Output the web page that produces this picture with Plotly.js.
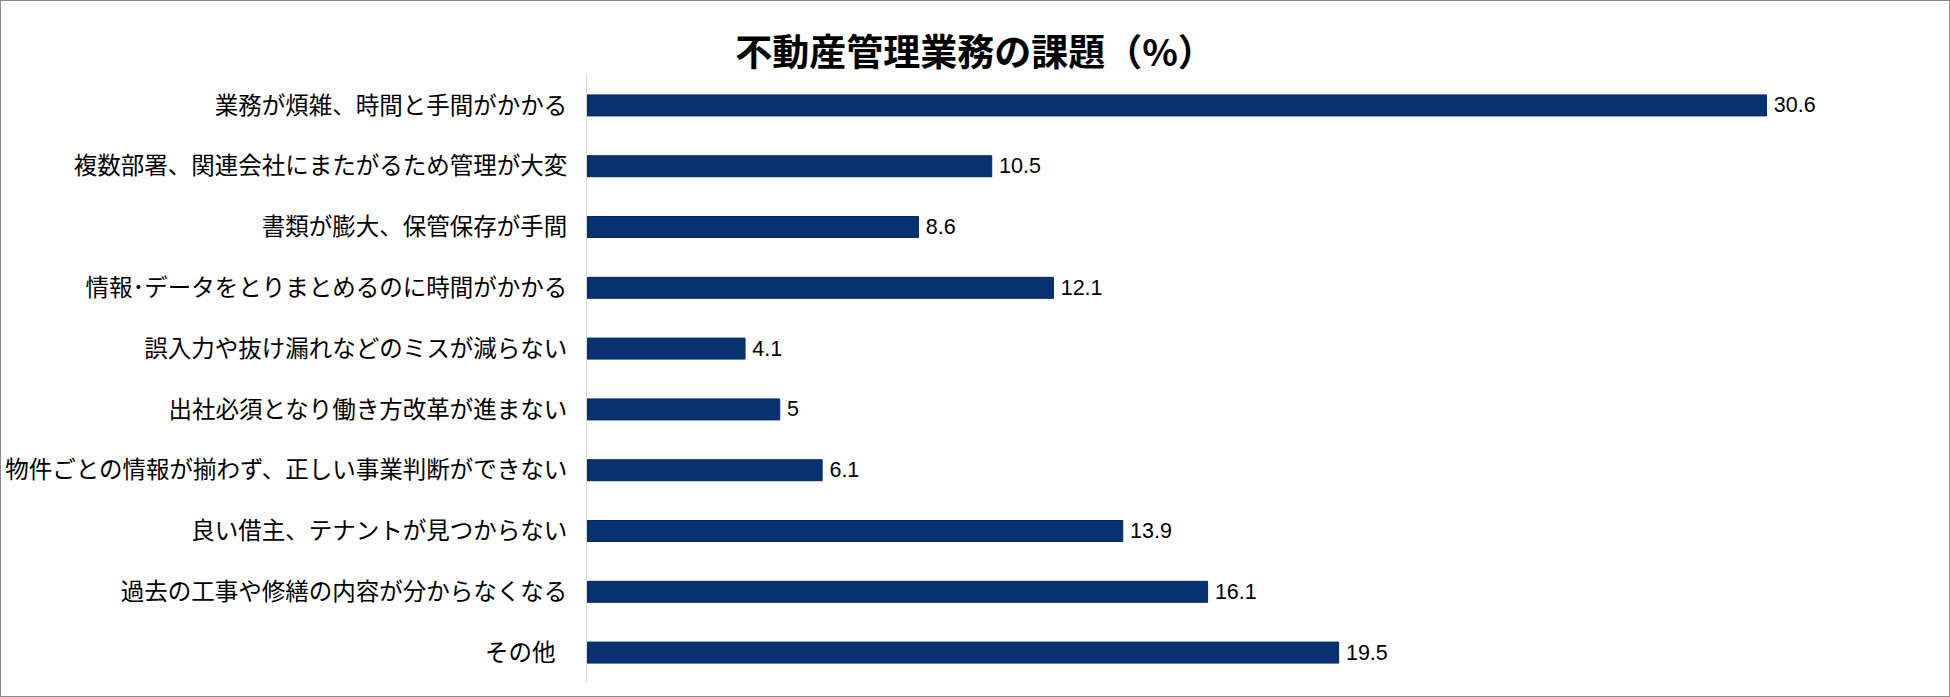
<!DOCTYPE html>
<html>
<head>
<meta charset="utf-8">
<script src="https://cdn.plot.ly/plotly-3.0.1.min.js"></script>
<style>
  html, body { margin: 0; padding: 0; background: #ffffff; }
  #wrap { position: relative; width: 1950px; height: 697px; }
  #chart { position: absolute; left: 0; top: 0; width: 1950px; height: 697px; }
  #frame { position: absolute; left: 0; top: 0; width: 1950px; height: 697px; box-sizing: border-box; border: 1px solid #8c8c8c; pointer-events: none; }
</style>
</head>
<body>
<div id="wrap">
  <div id="chart"></div>
  <div id="frame"></div>
</div>
<script>
const chartTitle = "不動産管理業務の課題（%）";

const categories = [
  "業務が煩雑、時間と手間がかかる",
  "複数部署、関連会社にまたがるため管理が大変",
  "書類が膨大、保管保存が手間",
  "情報\uFF65データをとりまとめるのに時間がかかる",
  "誤入力や抜け漏れなどのミスが減らない",
  "出社必須となり働き方改革が進まない",
  "物件ごとの情報が揃わず、正しい事業判断ができない",
  "良い借主、テナントが見つからない",
  "過去の工事や修繕の内容が分からなくなる",
  "その他\u2002"
];

const values = [30.6, 10.5, 8.6, 12.1, 4.1, 5, 6.1, 13.9, 16.1, 19.5];

const trace = {
  type: "bar",
  orientation: "h",
  x: values,
  y: categories,
  text: values.map(v => "\u2009" + String(v)),
  texttemplate: "%{text}",
  textposition: "outside",
  constraintext: "none",
  cliponaxis: false,
  textfont: { family: "Liberation Sans, Arial, sans-serif", size: 21.5, color: "#000000" },
  marker: { color: "#08326f", line: { color: "#06295c", width: 1 } },
  hoverinfo: "skip"
};

const layout = {
  width: 1950,
  height: 697,
  paper_bgcolor: "#ffffff",
  plot_bgcolor: "#ffffff",
  margin: { l: 587, r: 91, t: 75, b: 14, pad: 0 },
  bargap: 0.655,
  showlegend: false,
  title: {
    text: chartTitle,
    font: { family: "Noto Sans CJK JP, sans-serif", size: 37, color: "#000000", weight: "bold" },
    x: 0.5,
    xref: "container",
    xanchor: "center",
    y: 1 - 53 / 697,
    yref: "container",
    yanchor: "middle"
  },
  xaxis: {
    range: [0, 33],
    showgrid: false,
    zeroline: false,
    showline: false,
    showticklabels: false,
    ticks: "",
    fixedrange: true
  },
  yaxis: {
    type: "category",
    autorange: "reversed",
    showgrid: false,
    zeroline: false,
    showline: true,
    linecolor: "#d9d9d9",
    linewidth: 1,
    ticks: "",
    ticklabelstandoff: 14,
    tickfont: { family: "Noto Sans CJK JP, sans-serif", size: 23.5, color: "#000000" },
    fixedrange: true
  }
};

Plotly.newPlot("chart", [trace], layout, { displayModeBar: false, staticPlot: true });
</script>
</body>
</html>
